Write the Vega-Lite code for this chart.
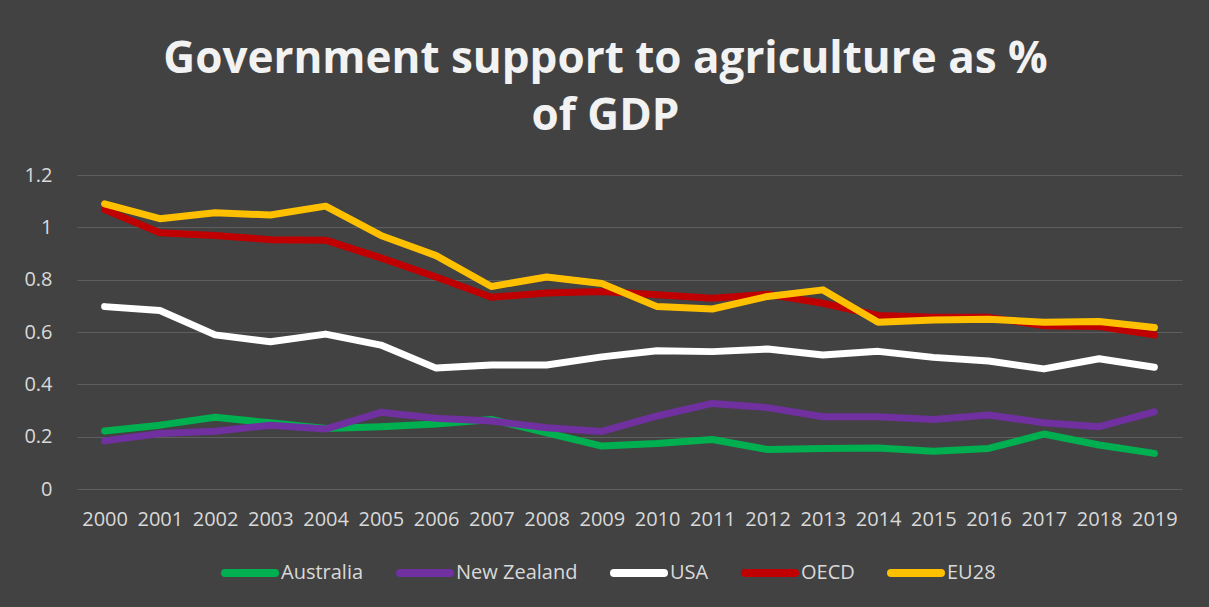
{
  "$schema": "https://vega.github.io/schema/vega-lite/v6.json",
  "width": 1105,
  "height": 314,
  "autosize": {"type": "none"},
  "padding": {"left": 77, "top": 175, "right": 27, "bottom": 118},
  "background": "#424242",
  "title": {
    "text": ["Government support to agriculture as %", "of GDP"],
    "font": "Open Sans",
    "fontSize": 44,
    "fontWeight": "bold",
    "color": "#f2f2f2",
    "anchor": "middle",
    "frame": "group",
    "dx": -24,
    "offset": 26,
    "lineHeight": 57
  },
  "config": {
    "view": {"stroke": null},
    "axis": {"labelFont": "Open Sans", "labelColor": "#d9d9d9", "labelFontSize": 20, "title": null}
  },
  "data": {
    "values": [
      {"year": "2000", "country": "Australia", "value": 0.222},
      {"year": "2001", "country": "Australia", "value": 0.244},
      {"year": "2002", "country": "Australia", "value": 0.274},
      {"year": "2003", "country": "Australia", "value": 0.253},
      {"year": "2004", "country": "Australia", "value": 0.231},
      {"year": "2005", "country": "Australia", "value": 0.238},
      {"year": "2006", "country": "Australia", "value": 0.248},
      {"year": "2007", "country": "Australia", "value": 0.266},
      {"year": "2008", "country": "Australia", "value": 0.215},
      {"year": "2009", "country": "Australia", "value": 0.164},
      {"year": "2010", "country": "Australia", "value": 0.174},
      {"year": "2011", "country": "Australia", "value": 0.189},
      {"year": "2012", "country": "Australia", "value": 0.151},
      {"year": "2013", "country": "Australia", "value": 0.155},
      {"year": "2014", "country": "Australia", "value": 0.157},
      {"year": "2015", "country": "Australia", "value": 0.144},
      {"year": "2016", "country": "Australia", "value": 0.155},
      {"year": "2017", "country": "Australia", "value": 0.210},
      {"year": "2018", "country": "Australia", "value": 0.168},
      {"year": "2019", "country": "Australia", "value": 0.136},
      {"year": "2000", "country": "New Zealand", "value": 0.184},
      {"year": "2001", "country": "New Zealand", "value": 0.212},
      {"year": "2002", "country": "New Zealand", "value": 0.221},
      {"year": "2003", "country": "New Zealand", "value": 0.244},
      {"year": "2004", "country": "New Zealand", "value": 0.229},
      {"year": "2005", "country": "New Zealand", "value": 0.293},
      {"year": "2006", "country": "New Zealand", "value": 0.270},
      {"year": "2007", "country": "New Zealand", "value": 0.260},
      {"year": "2008", "country": "New Zealand", "value": 0.234},
      {"year": "2009", "country": "New Zealand", "value": 0.220},
      {"year": "2010", "country": "New Zealand", "value": 0.279},
      {"year": "2011", "country": "New Zealand", "value": 0.327},
      {"year": "2012", "country": "New Zealand", "value": 0.311},
      {"year": "2013", "country": "New Zealand", "value": 0.276},
      {"year": "2014", "country": "New Zealand", "value": 0.276},
      {"year": "2015", "country": "New Zealand", "value": 0.266},
      {"year": "2016", "country": "New Zealand", "value": 0.283},
      {"year": "2017", "country": "New Zealand", "value": 0.253},
      {"year": "2018", "country": "New Zealand", "value": 0.238},
      {"year": "2019", "country": "New Zealand", "value": 0.295},
      {"year": "2000", "country": "USA", "value": 0.697},
      {"year": "2001", "country": "USA", "value": 0.682},
      {"year": "2002", "country": "USA", "value": 0.589},
      {"year": "2003", "country": "USA", "value": 0.563},
      {"year": "2004", "country": "USA", "value": 0.592},
      {"year": "2005", "country": "USA", "value": 0.550},
      {"year": "2006", "country": "USA", "value": 0.462},
      {"year": "2007", "country": "USA", "value": 0.474},
      {"year": "2008", "country": "USA", "value": 0.474},
      {"year": "2009", "country": "USA", "value": 0.505},
      {"year": "2010", "country": "USA", "value": 0.528},
      {"year": "2011", "country": "USA", "value": 0.525},
      {"year": "2012", "country": "USA", "value": 0.535},
      {"year": "2013", "country": "USA", "value": 0.512},
      {"year": "2014", "country": "USA", "value": 0.526},
      {"year": "2015", "country": "USA", "value": 0.503},
      {"year": "2016", "country": "USA", "value": 0.489},
      {"year": "2017", "country": "USA", "value": 0.459},
      {"year": "2018", "country": "USA", "value": 0.498},
      {"year": "2019", "country": "USA", "value": 0.465},
      {"year": "2000", "country": "OECD", "value": 1.068},
      {"year": "2001", "country": "OECD", "value": 0.979},
      {"year": "2002", "country": "OECD", "value": 0.969},
      {"year": "2003", "country": "OECD", "value": 0.953},
      {"year": "2004", "country": "OECD", "value": 0.951},
      {"year": "2005", "country": "OECD", "value": 0.883},
      {"year": "2006", "country": "OECD", "value": 0.810},
      {"year": "2007", "country": "OECD", "value": 0.733},
      {"year": "2008", "country": "OECD", "value": 0.749},
      {"year": "2009", "country": "OECD", "value": 0.755},
      {"year": "2010", "country": "OECD", "value": 0.742},
      {"year": "2011", "country": "OECD", "value": 0.729},
      {"year": "2012", "country": "OECD", "value": 0.744},
      {"year": "2013", "country": "OECD", "value": 0.710},
      {"year": "2014", "country": "OECD", "value": 0.663},
      {"year": "2015", "country": "OECD", "value": 0.656},
      {"year": "2016", "country": "OECD", "value": 0.656},
      {"year": "2017", "country": "OECD", "value": 0.624},
      {"year": "2018", "country": "OECD", "value": 0.621},
      {"year": "2019", "country": "OECD", "value": 0.589},
      {"year": "2000", "country": "EU28", "value": 1.090},
      {"year": "2001", "country": "EU28", "value": 1.033},
      {"year": "2002", "country": "EU28", "value": 1.056},
      {"year": "2003", "country": "EU28", "value": 1.047},
      {"year": "2004", "country": "EU28", "value": 1.081},
      {"year": "2005", "country": "EU28", "value": 0.969},
      {"year": "2006", "country": "EU28", "value": 0.892},
      {"year": "2007", "country": "EU28", "value": 0.774},
      {"year": "2008", "country": "EU28", "value": 0.810},
      {"year": "2009", "country": "EU28", "value": 0.785},
      {"year": "2010", "country": "EU28", "value": 0.697},
      {"year": "2011", "country": "EU28", "value": 0.688},
      {"year": "2012", "country": "EU28", "value": 0.736},
      {"year": "2013", "country": "EU28", "value": 0.761},
      {"year": "2014", "country": "EU28", "value": 0.637},
      {"year": "2015", "country": "EU28", "value": 0.646},
      {"year": "2016", "country": "EU28", "value": 0.649},
      {"year": "2017", "country": "EU28", "value": 0.637},
      {"year": "2018", "country": "EU28", "value": 0.640},
      {"year": "2019", "country": "EU28", "value": 0.617}
    ]
  },
  "mark": {"type": "line", "strokeWidth": 7, "strokeCap": "round", "strokeJoin": "round"},
  "encoding": {
    "x": {
      "field": "year",
      "type": "ordinal",
      "scale": {"type": "point", "padding": 0.5},
      "axis": {"labelAngle": 0, "domain": false, "ticks": false, "grid": false, "labelPadding": 20}
    },
    "y": {
      "field": "value",
      "type": "quantitative",
      "scale": {"domain": [0, 1.2], "nice": false},
      "axis": {
        "values": [0, 0.2, 0.4, 0.6, 0.8, 1, 1.2],
        "format": "~g",
        "domain": false,
        "ticks": false,
        "labelPadding": 25,
        "grid": true,
        "gridColor": "#5e5e5e",
        "gridWidth": 1.2
      }
    },
    "color": {
      "field": "country",
      "type": "nominal",
      "scale": {
        "domain": ["Australia", "New Zealand", "USA", "OECD", "EU28"],
        "range": ["#00b050", "#7030a0", "#ffffff", "#c00000", "#ffc000"]
      },
      "legend": {
        "title": null,
        "orient": "none",
        "direction": "horizontal",
        "legendX": 144,
        "legendY": 369,
        "symbolType": "stroke",
        "symbolSize": 2500,
        "symbolStrokeWidth": 8,
        "labelFont": "Open Sans",
        "labelFontSize": 20,
        "labelColor": "#d9d9d9",
        "labelOffset": 2,
        "columnPadding": 20,
        "encode": {"symbols": {"update": {"strokeCap": {"value": "round"}}}}
      }
    }
  }
}
